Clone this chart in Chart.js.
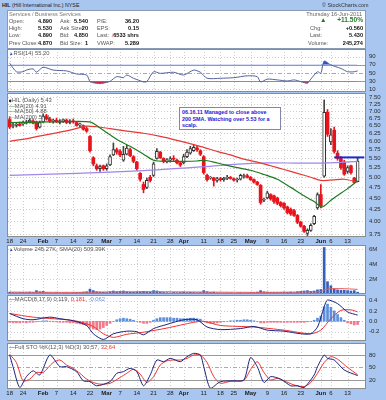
<!DOCTYPE html>
<html>
<head>
<meta charset="utf-8">
<script src="https://cdn.jsdelivr.net/npm/chart.js@4.4.1/dist/chart.umd.min.js"></script>
<style>
  body { margin: 0; width: 386px; height: 400px; overflow: hidden; position: relative; background: #a9c6f0; font-family: "Liberation Sans", Arial, sans-serif; color: #333; }
  canvas { position: absolute; left: 0; }
  .t { position: absolute; font-size: 5.6px; line-height: 6px; white-space: nowrap; color: #555; }
  .v { position: absolute; font-size: 5.6px; line-height: 6px; white-space: nowrap; font-weight: bold; color: #111; text-align: right; }
  .lg { position: absolute; font-size: 5.8px; line-height: 6px; white-space: nowrap; color: #555; }
  #info { position: absolute; left: 7px; top: 10px; width: 357px; height: 37px; background: #fff; border: 1px solid #8a9bb5; }
  #note { position: absolute; left: 179px; top: 107px; width: 98px; height: 20px; background: #fff; border: 1px solid #8088a8; padding: 1px 0 0 2px; font-size: 5.4px; line-height: 6.5px; font-weight: bold; color: #1c22d2; white-space: nowrap; }
</style>
</head>
<body>
<div id="info"></div>
<canvas id="rsi" width="386" height="43" style="top:49px"></canvas>
<canvas id="price" width="386" height="152" style="top:93px"></canvas>
<canvas id="vol" width="386" height="49" style="top:245px"></canvas>
<canvas id="macd" width="386" height="46" style="top:295px"></canvas>
<canvas id="sto" width="386" height="57" style="top:343px"></canvas>

<!-- header -->
<div class="t" style="left:2px;top:2px;color:#222;font-size:5.3px"><b>HIL</b> (Hill International Inc.) NYSE</div>
<div class="t" style="left:322px;top:2px;color:#333;font-size:5.4px">© StockCharts.com</div>

<!-- info box -->
<div class="t" style="left:9px;top:11px;color:#777">Services / Business Services</div>
<div class="t" style="right:24px;top:11px;color:#666">Thursday 16-Jun-2011</div>

<div class="t" style="left:9px;top:17.7px">Open:</div><div class="v" style="right:334px;top:17.7px">4.890</div>
<div class="t" style="left:60px;top:17.7px">Ask:</div><div class="v" style="right:298px;top:17.7px">5.540</div>
<div class="t" style="left:97px;top:17.7px">P/E:</div><div class="v" style="right:247px;top:17.7px">36.20</div>
<div class="t" style="left:320px;top:17px;color:#1f7a1f;font-size:6.5px">▲</div>
<div class="v" style="right:23px;top:17.2px;color:#2a7a2a;font-size:6.6px">+11.50%</div>

<div class="t" style="left:9px;top:25px">High:</div><div class="v" style="right:334px;top:25px">5.530</div>
<div class="t" style="left:60px;top:25px">Ask Size:</div><div class="v" style="right:298px;top:25px">20</div>
<div class="t" style="left:97px;top:25px">EPS:</div><div class="v" style="right:247px;top:25px">0.15</div>
<div class="t" style="left:310px;top:25px">Chg:</div><div class="v" style="right:23px;top:25px">+0.560</div>

<div class="t" style="left:9px;top:32.3px">Low:</div><div class="v" style="right:334px;top:32.3px">4.890</div>
<div class="t" style="left:60px;top:32.3px">Bid:</div><div class="v" style="right:298px;top:32.3px">4.850</div>
<div class="t" style="left:97px;top:32.3px">Last: <span style="color:#d01010;font-weight:bold">↓</span></div><div class="v" style="right:247px;top:32.3px">6533 shrs</div>
<div class="t" style="left:310px;top:32.3px">Last:</div><div class="v" style="right:23px;top:32.3px">5.430</div>

<div class="t" style="left:9px;top:39.7px">Prev Close:</div><div class="v" style="right:334px;top:39.7px">4.870</div>
<div class="t" style="left:60px;top:39.7px">Bid Size:</div><div class="v" style="right:298px;top:39.7px">1</div>
<div class="t" style="left:97px;top:39.7px">VWAP:</div><div class="v" style="right:247px;top:39.7px">5.289</div>
<div class="t" style="left:308px;top:39.7px">Volume:</div><div class="v" style="right:23px;top:39.7px">245,274</div>

<!-- panel legends -->
<div class="lg" style="left:9px;top:49.5px"><span style="color:#3050c0;font-size:4.5px">▲</span>RSI(14) 55.20</div>
<div class="lg" style="left:9px;top:97px"><span style="color:#222;font-size:4.5px">■</span>HIL (Daily) 5.43</div>
<div class="lg" style="left:9px;top:102.5px"><span style="color:#1e7b1e">—</span>MA(20) 4.91</div>
<div class="lg" style="left:9px;top:108px"><span style="color:#e53935">—</span>MA(50) 4.88</div>
<div class="lg" style="left:9px;top:113.5px"><span style="color:#9f86ea">—</span>MA(200) 5.41</div>
<div class="lg" style="left:9px;top:246px"><span style="color:#3050c0;font-size:4.5px">▲</span>Volume 245.27K, SMA(20) 509.39K</div>
<div class="lg" style="left:9px;top:296px"><span style="color:#1a237e">—</span>MACD(8,17,9) 0.119, <span style="color:#e53935">0.181</span>, <span style="color:#6a8fd8">-0.062</span></div>
<div class="lg" style="left:9px;top:344px"><span style="color:#1a237e">—</span>Full STO %K(12,3) %D(3) 30.57, <span style="color:#e53935">32.64</span></div>

<div id="note">06.16.11 Managed to close above<br>200 SMA. Watching over 5.53 for a<br>scalp.</div>

<script>
// HIL daily, 18 Jan - 16 Jun 2011

const dates = [
  '01-18','01-19','01-20','01-21','01-24','01-25','01-26','01-27','01-28','01-31',
  '02-01','02-02','02-03','02-04','02-07','02-08','02-09','02-10','02-11','02-14','02-15','02-16','02-17','02-18','02-22','02-23','02-24','02-25','02-28',
  '03-01','03-02','03-03','03-04','03-07','03-08','03-09','03-10','03-11','03-14','03-15','03-16','03-17','03-18','03-21','03-22','03-23','03-24','03-25','03-28','03-29','03-30','03-31',
  '04-01','04-04','04-05','04-06','04-07','04-08','04-11','04-12','04-13','04-14','04-15','04-18','04-19','04-20','04-21','04-25','04-26','04-27','04-28','04-29',
  '05-02','05-03','05-04','05-05','05-06','05-09','05-10','05-11','05-12','05-13','05-16','05-17','05-18','05-19','05-20','05-23','05-24','05-25','05-26','05-27','05-31',
  '06-01','06-02','06-03','06-06','06-07','06-08','06-09','06-10','06-13','06-14','06-15','06-16'
];
const labels = dates.concat([' ', '  ']);

const tickIdx  = [0, 4, 10, 14, 19, 24, 29, 33, 38, 43, 48, 52, 58, 63, 67, 72, 77, 82, 87, 93, 96, 101];
const tickText = ['18','24','Feb','7','14','22','Mar','7','14','21','28','Apr','11','18','25','May','9','16','23','Jun','6','13'];

const openP = [
  6.70,6.50,6.50,6.55,6.55,6.58,6.62,6.65,6.62,6.45,
  6.62,6.80,6.72,6.65,6.68,6.60,6.66,6.68,6.60,6.65,
  6.60,6.52,6.50,6.40,6.15,5.52,5.30,5.22,5.30,5.22,
  5.32,5.60,5.75,5.70,5.45,5.62,5.75,5.55,5.40,5.10,
  4.82,4.75,5.00,5.05,5.50,5.68,5.50,5.42,5.45,5.50,
  5.45,5.38,5.38,5.55,5.65,5.72,5.80,5.72,5.55,5.05,
  4.98,4.98,4.92,4.96,4.94,4.97,5.00,4.96,4.93,4.95,
  5.02,5.04,5.00,4.94,4.88,4.80,4.45,4.50,4.58,4.55,
  4.50,4.40,4.38,4.30,4.25,4.22,4.12,3.98,3.90,3.76,
  3.82,3.95,4.28,4.58,5.03,6.95,5.98,6.35,5.65,5.50,
  5.40,5.15,5.30,4.98,4.89
];
const highP = [
  6.80,6.60,6.58,6.62,6.65,6.68,6.72,6.70,6.65,6.65,
  6.90,6.88,6.78,6.72,6.75,6.70,6.72,6.72,6.70,6.72,
  6.62,6.58,6.52,6.45,6.18,5.55,5.35,5.32,5.32,5.35,
  5.60,5.95,5.80,5.75,5.85,5.88,5.80,5.58,5.42,5.12,
  4.88,4.98,5.05,5.40,5.78,5.70,5.52,5.50,5.55,5.58,
  5.48,5.40,5.62,5.75,5.85,5.88,5.85,5.75,5.58,5.08,
  5.02,5.00,5.00,5.00,5.00,5.05,5.02,4.98,4.98,5.08,
  5.08,5.08,5.02,4.96,4.90,4.82,4.50,4.66,4.60,4.57,
  4.52,4.42,4.40,4.32,4.28,4.25,4.14,4.00,3.92,3.85,
  3.95,4.12,4.62,4.82,7.40,7.05,6.40,6.45,5.72,5.55,
  5.45,5.30,5.32,5.00,5.53
];
const lowP = [
  6.40,6.42,6.45,6.48,6.50,6.55,6.58,6.55,6.35,6.42,
  6.60,6.68,6.60,6.58,6.60,6.55,6.60,6.56,6.55,6.58,
  6.48,6.45,6.35,6.28,5.68,5.30,5.18,5.15,5.18,5.18,
  5.30,5.58,5.62,5.55,5.42,5.60,5.55,5.38,5.18,4.90,
  4.62,4.72,4.88,5.02,5.48,5.50,5.38,5.38,5.40,5.44,
  5.35,5.28,5.35,5.52,5.62,5.70,5.70,5.58,5.08,4.90,
  4.95,4.78,4.88,4.90,4.90,4.94,4.95,4.90,4.88,4.93,
  4.98,4.98,4.92,4.85,4.80,4.36,4.42,4.48,4.45,4.38,
  4.35,4.30,4.25,4.15,4.12,4.10,3.95,3.88,3.78,3.72,
  3.80,3.93,4.25,4.28,5.00,6.15,5.90,5.65,5.45,5.20,
  5.05,5.10,5.08,4.85,4.89
];
const closeP = [
  6.45,6.52,6.55,6.50,6.60,6.62,6.68,6.58,6.40,6.60,
  6.82,6.72,6.65,6.68,6.62,6.66,6.70,6.60,6.65,6.62,
  6.50,6.55,6.38,6.32,5.72,5.35,5.22,5.28,5.22,5.30,
  5.55,5.75,5.68,5.60,5.62,5.80,5.58,5.42,5.22,4.95,
  4.70,4.92,4.92,5.35,5.70,5.52,5.42,5.46,5.50,5.48,
  5.38,5.32,5.55,5.68,5.78,5.82,5.75,5.62,5.12,4.94,
  4.99,4.92,4.96,4.94,4.97,4.99,4.97,4.93,4.95,5.05,
  5.04,5.00,4.94,4.88,4.82,4.40,4.46,4.62,4.48,4.42,
  4.38,4.33,4.28,4.18,4.15,4.12,3.98,3.90,3.80,3.82,
  3.92,4.10,4.58,4.32,6.95,6.22,6.20,5.70,5.50,5.25,
  5.08,5.25,5.12,4.87,5.43
];

// moving averages at a few days each: [day index, value]
const ma20Pts  = [[0,6.60],[8,6.61],[16,6.63],[24,6.62],[27,6.42],[30,6.20],[33,6.00],[36,5.85],[40,5.62],[43,5.45],[47,5.42],[52,5.42],[56,5.43],[58,5.45],[61,5.40],[64,5.33],[68,5.25],[72,5.18],[76,5.07],[80,4.95],[84,4.75],[88,4.55],[91,4.42],[93,4.30],[94,4.32],[96,4.45],[98,4.56],[101,4.72],[104,4.91]];
const ma50Pts  = [[0,6.00],[6,6.10],[12,6.22],[18,6.35],[23,6.48],[26,6.46],[30,6.40],[35,6.32],[40,6.25],[45,6.15],[50,6.03],[55,5.90],[58,5.82],[62,5.70],[66,5.60],[70,5.48],[74,5.40],[78,5.30],[82,5.20],[86,5.10],[90,5.00],[93,4.92],[95,4.92],[100,4.95],[104,4.88]];
const ma200Pts = [[0,5.05],[20,5.10],[40,5.17],[57,5.27],[67,5.34],[77,5.38],[87,5.37],[95,5.38],[104,5.42]];
const watchPts = [[97,5.53],[106,5.53]];
const priceTicks = [3.75,4.00,4.25,4.50,4.75,5.00,5.25,5.50,5.75,6.00,6.25,6.50,6.75,7.00,7.25,7.50];

const rsiPts = [[0,73.7],[2,53],[4,53],[5,57],[7,60],[8,52],[10,64],[13,57],[17,55],[20,47.5],[23,45],[24,29],[25,26],[27,24],[29,27],[30,29.5],[32,41],[34,38.5],[35,45],[37,37],[39,31],[40,28],[41,29],[43,53],[45,49],[49,51.7],[52,45],[55,57],[57,51.7],[59,37],[63,37],[67,38.5],[71,43],[74,41],[75,28],[77,35],[80,33],[83,30.5],[85,33],[87,29],[89,25],[90,35],[92,53],[93,49],[94,79],[96,69.5],[99,61],[101,53],[103,53],[104,55.2]];

// volume in millions
const volume = [
  0.25,0.20,0.18,0.20,0.22,0.20,0.25,0.20,0.45,0.30,
  0.35,0.20,0.18,0.15,0.20,0.15,0.15,0.18,0.15,0.20,
  0.22,0.20,0.25,0.30,0.65,0.45,0.30,0.25,0.22,0.20,
  0.30,0.40,0.30,0.35,0.40,0.30,0.25,0.22,0.28,0.30,
  0.35,0.30,0.25,0.45,0.40,0.25,0.20,0.18,0.15,0.20,
  0.18,0.20,0.25,0.20,0.22,0.20,0.18,0.20,0.45,0.30,
  0.20,0.25,0.15,0.15,0.12,0.15,0.15,0.12,0.15,0.20,
  0.15,0.15,0.20,0.20,0.25,0.45,0.30,0.25,0.20,0.22,
  0.20,0.20,0.25,0.22,0.25,0.20,0.30,0.35,0.40,0.45,
  0.35,0.40,0.55,0.60,6.20,1.64,1.10,0.70,0.55,0.50,
  0.50,0.45,0.40,0.45,0.245
];
const volSmaPts = [[0,0.25],[20,0.22],[30,0.28],[45,0.30],[60,0.25],[75,0.22],[90,0.28],[93,0.32],[94,0.55],[95,0.65],[96,0.70],[99,0.72],[104,0.62]];

const macdPts = [[0,0.15],[4,0.05],[7,0.03],[12,0.08],[15,0.05],[19,0.01],[23,-0.08],[25,-0.24],[28,-0.35],[31,-0.24],[35,-0.19],[38,-0.20],[40,-0.26],[43,-0.14],[47,-0.06],[52,0.03],[56,0.03],[59,-0.11],[63,-0.16],[69,-0.14],[73,-0.10],[77,-0.17],[82,-0.19],[87,-0.24],[90,-0.24],[92,-0.11],[94,0.28],[95,0.41],[98,0.34],[101,0.18],[104,0.119]];
const signalPts = [[0,0.15],[7,0.08],[17,0.03],[21,-0.01],[25,-0.10],[28,-0.24],[31,-0.31],[35,-0.25],[40,-0.21],[47,-0.13],[55,-0.02],[58,0.00],[63,-0.08],[73,-0.11],[82,-0.17],[90,-0.24],[93,-0.17],[96,0.05],[99,0.21],[102,0.22],[104,0.181]];
const macdHist = [
  -0.02,-0.03,-0.03,-0.03,-0.02,-0.03,-0.02,-0.02,-0.01,0.00,
  0.01,0.01,0.00,-0.01,-0.01,-0.02,-0.02,-0.02,-0.03,-0.03,
  -0.04,-0.05,-0.06,-0.08,-0.12,-0.15,-0.16,-0.15,-0.12,-0.08,
  -0.04,0.00,0.03,0.05,0.06,0.05,0.04,0.02,0.00,-0.02,
  -0.04,-0.04,-0.02,0.02,0.05,0.07,0.07,0.07,0.07,0.06,
  0.06,0.05,0.05,0.05,0.06,0.06,0.05,0.04,0.00,-0.03,
  -0.04,-0.04,-0.03,-0.02,-0.01,0.00,0.01,0.01,0.02,0.02,
  0.03,0.03,0.02,0.01,0.00,-0.03,-0.03,-0.02,-0.02,-0.02,
  -0.02,-0.02,-0.02,-0.02,-0.02,-0.02,-0.02,-0.02,-0.02,-0.01,
  0.00,0.02,0.06,0.10,0.28,0.33,0.27,0.20,0.13,0.07,
  0.02,-0.03,-0.05,-0.07,-0.062
];

const stoKPts = [[0,80],[1,52],[3,2],[5,28],[7,42],[9,32],[12,80],[15,52],[17,52],[20,40],[22,18],[24,16],[26,6],[30,16],[32,36],[34,40],[36,48],[38,40],[40,6],[42,32],[44,68],[46,64],[48,72],[51,64],[53,76],[55,84],[57,80],[58,52],[60,0],[63,16],[67,18],[70,20],[72,74],[74,52],[76,14],[78,28],[81,22],[84,6],[86,6],[88,2],[91,32],[92,52],[94,80],[95,72],[97,68],[100,44],[104,30.57]];
const stoDPts = [[0,82],[2,62],[4,18],[6,22],[8,38],[10,38],[13,62],[15,68],[17,56],[19,48],[21,36],[23,22],[25,14],[27,10],[30,12],[33,26],[35,36],[37,46],[39,34],[41,14],[43,28],[45,56],[47,66],[49,68],[51,68],[53,72],[55,80],[57,80],[59,62],[61,28],[63,12],[66,17],[70,19],[72,45],[74,64],[76,38],[78,20],[80,24],[82,18],[85,8],[88,4],[90,14],[92,36],[94,62],[96,76],[98,70],[101,50],[104,32.64]];

const FONT = '"Liberation Sans", Arial, sans-serif';
Chart.defaults.font.family = FONT;

function pts(list) { return list.map(p => ({ x: labels[p[0]], y: p[1] })); }

const panelPlugin = {
  id: 'panel',
  beforeDraw(chart, args, opts) {
    const { ctx, chartArea: a } = chart;
    const xs = chart.scales.x, ys = chart.scales.y;
    ctx.save();
    ctx.fillStyle = '#ffffff';
    ctx.fillRect(a.left, a.top, a.right - a.left, a.bottom - a.top);
    ctx.lineWidth = 1;
    ctx.strokeStyle = '#cdcdcd';
    ctx.setLineDash([1, 2]);
    tickIdx.forEach(i => {
      const x = Math.round(xs.getPixelForValue(i)) + 0.5;
      ctx.beginPath(); ctx.moveTo(x, a.top); ctx.lineTo(x, a.bottom); ctx.stroke();
    });
    (opts.lines || []).forEach(l => {
      const y = Math.round(ys.getPixelForValue(l.v)) + 0.5;
      ctx.strokeStyle = l.c || '#cdcdcd';
      ctx.setLineDash(l.d || [1, 2]);
      ctx.beginPath(); ctx.moveTo(a.left, y); ctx.lineTo(a.right, y); ctx.stroke();
    });
    ctx.restore();
  },
  afterDraw(chart) {
    const { ctx, chartArea: a } = chart;
    ctx.save();
    ctx.strokeStyle = '#8c8c8c';
    ctx.lineWidth = 1;
    ctx.strokeRect(a.left - 0.5, a.top + 0.5, a.right - a.left, a.bottom - a.top - 1);
    ctx.restore();
  }
};

function xAxis(h) {
  return {
    type: 'category', offset: true, display: h > 0,
    grid: { display: false, drawTicks: false, tickLength: 0 }, border: { display: false },
    ticks: {
      autoSkip: false, maxRotation: 0, padding: 1, color: '#1a1a1a',
      font: c => ({ size: 6, family: FONT, weight: (c.tick && /[A-Z]/.test(c.tick.label)) ? 'bold' : 'normal' }),
      callback: v => tickText[tickIdx.indexOf(v)]
    },
    afterBuildTicks: s => { s.ticks = tickIdx.map(i => ({ value: i })); },
    afterFit: s => { s.height = h; s.paddingLeft = 0; s.paddingRight = 0; }
  };
}

function yAxis(o) {
  return {
    type: o.type || 'linear', position: 'right', min: o.min, max: o.max,
    grid: { display: false, drawTicks: false, tickLength: 0 }, border: { display: false },
    ticks: { autoSkip: false, padding: 3, color: '#2a2a2a', font: { size: 6, family: FONT }, callback: o.fmt },
    afterBuildTicks: s => { s.ticks = o.ticks.map(v => ({ value: v })); },
    afterFit: s => { s.width = 20; s.paddingTop = 0; s.paddingBottom = 0; }
  };
}

function panel(id, datasets, y, lines, xh) {
  return new Chart(document.getElementById(id), {
    type: 'bar',
    data: { labels: labels, datasets: datasets },
    options: {
      responsive: false, animation: false, events: [],
      layout: { padding: { left: 8, right: 0, top: 0, bottom: 0 } },
      plugins: { legend: { display: false }, tooltip: { enabled: false }, panel: { lines: lines } },
      elements: { point: { radius: 0 }, line: { borderWidth: 1, tension: 0.25 } },
      scales: { x: xAxis(xh), y: yAxis(y) }
    },
    plugins: [panelPlugin]
  });
}

const solid = '#9a9a9a', dashdot = [4, 2, 1, 2];

// RSI
panel('rsi', [
  { type: 'line', data: pts(rsiPts), borderColor: '#56639e', borderWidth: 1,
    fill: { target: { value: 30 }, above: 'rgba(0,0,0,0)', below: '#d8244c' } },
  { type: 'line', data: pts(rsiPts), borderColor: 'rgba(0,0,0,0)', borderWidth: 0,
    fill: { target: { value: 70 }, above: '#3050d0', below: 'rgba(0,0,0,0)' } }
], { min: 3.5, max: 108.5, ticks: [10, 30, 50, 70, 90], fmt: v => String(v) },
[{ v: 90 }, { v: 70, c: solid, d: [] }, { v: 50, c: '#aaaaaa', d: dashdot }, { v: 30, c: solid, d: [] }, { v: 10 }], 0);

// price
const up = closeP.map((c, i) => c >= openP[i]);
panel('price', [
  { type: 'line', data: pts(watchPts), borderColor: '#1c2bd0', borderWidth: 2, tension: 0, order: 0 },
  { type: 'line', data: pts(ma20Pts), borderColor: '#1e7b1e', borderWidth: 1.2, order: 1 },
  { type: 'line', data: pts(ma50Pts), borderColor: '#e53935', borderWidth: 1.2, order: 1 },
  { type: 'line', data: pts(ma200Pts), borderColor: '#9f86ea', borderWidth: 1.2, order: 1 },
  { type: 'bar', grouped: false, order: 2, barThickness: 3, minBarLength: 1, borderSkipped: false,
    data: openP.map((o, i) => [o, closeP[i]]),
    backgroundColor: up.map(u => u ? '#ffffff' : '#e8141c'),
    borderColor: up.map(u => u ? '#333333' : '#e8141c'),
    borderWidth: up.map(u => u ? 1 : 0) },
  { type: 'bar', grouped: false, order: 3, barThickness: 1,
    data: lowP.map((l, i) => [l, highP[i]]),
    backgroundColor: up.map(u => u ? '#444444' : '#e8141c') }
], { type: 'logarithmic', min: 3.693, max: 7.666, ticks: priceTicks, fmt: v => v.toFixed(2) },
priceTicks.map(v => ({ v: v })), 8);

// volume
panel('vol', [
  { type: 'line', data: pts(volSmaPts), borderColor: '#ef5a5a', borderWidth: 1, order: 0 },
  { type: 'bar', grouped: false, order: 1, barThickness: 2, data: volume,
    backgroundColor: '#3560b8' }
], { min: 0, max: 6.53, ticks: [2, 4, 6], fmt: v => v + 'M' },
[{ v: 2 }, { v: 4 }, { v: 6 }], 0);

// MACD
panel('macd', [
  { type: 'line', data: pts(macdPts), borderColor: '#1a237e', borderWidth: 1, order: 0 },
  { type: 'line', data: pts(signalPts), borderColor: '#ee3333', borderWidth: 1, order: 0 },
  { type: 'bar', grouped: false, order: 1, barThickness: 2, data: macdHist,
    backgroundColor: macdHist.map(v => v >= 0 ? '#5b8fdc' : '#f07a8a') }
], { min: -0.379, max: 0.506, ticks: [-0.2, 0, 0.2, 0.4], fmt: v => v.toFixed(1) },
[{ v: 0.4 }, { v: 0.2 }, { v: 0, c: '#b0b0b0' }, { v: -0.2 }], 0);

// Full stochastics
panel('sto', [
  { type: 'line', data: pts(stoKPts), borderColor: '#1a237e', borderWidth: 1 },
  { type: 'line', data: pts(stoDPts), borderColor: '#ee3333', borderWidth: 1 }
], { min: -1.7, max: 108.9, ticks: [20, 50, 80], fmt: v => String(v) },
[{ v: 80, c: solid, d: [] }, { v: 50, c: '#aaaaaa', d: dashdot }, { v: 20, c: solid, d: [] }], 11);
</script>
</body>
</html>
